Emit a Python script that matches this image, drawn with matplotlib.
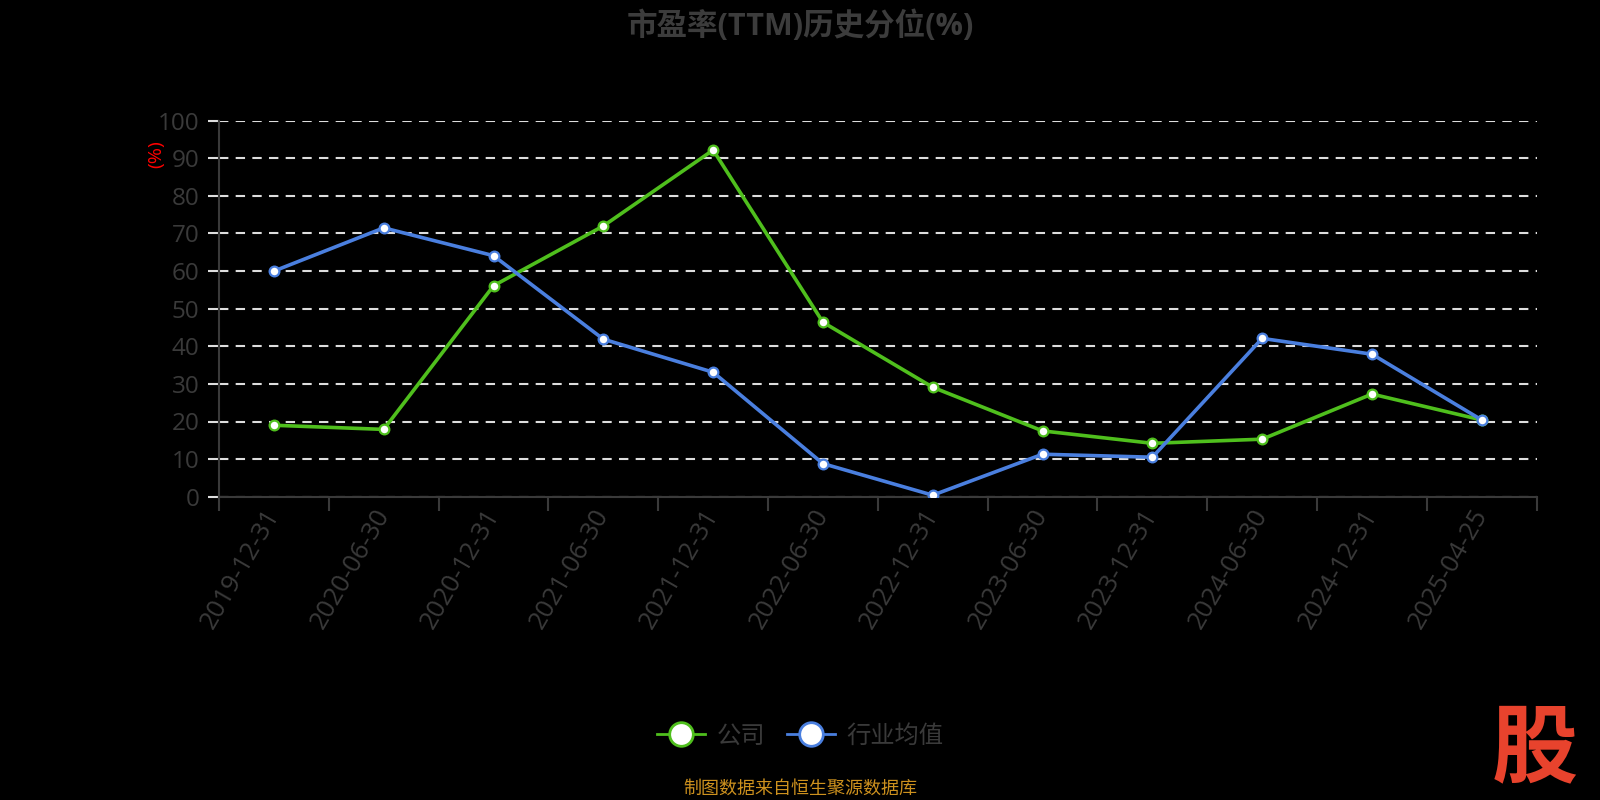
import matplotlib
matplotlib.use("Agg")
import matplotlib.pyplot as plt
import numpy as np
from matplotlib.lines import Line2D

plt.rcParams['font.family'] = ['Open Sans', 'Noto Sans CJK SC', 'DejaVu Sans']

# ---- data ----
dates = ["2019-12-31", "2020-06-30", "2020-12-31", "2021-06-30", "2021-12-31",
         "2022-06-30", "2022-12-31", "2023-06-30", "2023-12-31", "2024-06-30",
         "2024-12-31", "2025-04-25"]
company = [19.0, 17.9, 56.1, 72.0, 92.2, 46.4, 29.1, 17.5, 14.2, 15.3, 27.3, 20.4]
industry = [60.0, 71.5, 64.1, 41.9, 33.1, 8.8, 0.4, 11.3, 10.5, 42.1, 37.9, 20.4]
yticks = [0, 10, 20, 30, 40, 50, 60, 70, 80, 90, 100]
series_names = ["公司", "行业均值"]

title = "市盈率(TTM)历史分位(%)"
source = "制图数据来自恒生聚源数据库"

GREEN = '#4fbf1d'
BLUE = '#4a7fdf'
TXT = '#3a3a3a'
AXC = '#3a3a3a'

W, H = 1600, 800
fig = plt.figure(figsize=(16, 8), dpi=100)
fig.patch.set_facecolor('black')

x0, x1, y0, y1 = 219, 1536.7, 496.7, 120.7
ax = fig.add_axes([x0 / W, 1 - y0 / H, (x1 - x0) / W, (y0 - y1) / H])
ax.set_facecolor('black')

x = np.arange(len(dates))
ax.plot(x, company, color=GREEN, lw=2.6, marker='o', ms=7, mfc='white',
        mec=GREEN, mew=1.6, zorder=3)
ax.plot(x, industry, color=BLUE, lw=2.6, marker='o', ms=7, mfc='white',
        mec=BLUE, mew=1.6, zorder=4)

ax.set_xlim(-0.5, len(dates) - 0.5)
ax.set_ylim(0, 100)

for s in ['top', 'right']:
    ax.spines[s].set_visible(False)
for s in ['left', 'bottom']:
    ax.spines[s].set_color(AXC)
    ax.spines[s].set_linewidth(1.5)

# grid
ax.set_axisbelow(True)
ax.yaxis.grid(True, color='#dddddd', lw=1.5, linestyle=(0, (4.5, 3.5)))

# y ticks
ax.set_yticks(yticks)
ax.set_yticklabels([str(v) for v in yticks])
ax.tick_params(axis='y', length=8, width=1.5, color='#dddddd', pad=6,
               labelsize=17.5, labelcolor=TXT)
ax.yaxis.get_major_ticks()[0].tick1line.set_color(AXC)

# x ticks: boundaries as major, labels at centers as minor
bounds = np.arange(len(dates) + 1) - 0.5
ax.set_xticks(bounds, labels=[''] * len(bounds))
ax.tick_params(axis='x', which='major', length=10, width=1.5, color=AXC)
ax.set_xticks(x, labels=dates, minor=True)
ax.tick_params(axis='x', which='minor', length=0, pad=10, labelsize=18.5,
               labelcolor=TXT)
for lbl in ax.get_xticklabels(minor=True):
    lbl.set_rotation(60)
    lbl.set_ha('right')
    lbl.set_va('center')
    lbl.set_rotation_mode('anchor')

# y axis name
fig.text(156 / W, 1 - 154 / H, "(%)", color='red', fontsize=14, rotation=90,
         ha='center', va='center')

# title
fig.text(0.5, 1 - 26 / H, title, color='#3c3c3c', fontsize=22,
         fontweight='bold', ha='center', va='center')

# legend
handles = [
    Line2D([0], [0], color=GREEN, lw=2, marker='o', ms=17, mfc='white',
           mec=GREEN, mew=2),
    Line2D([0], [0], color=BLUE, lw=2, marker='o', ms=17, mfc='white',
           mec=BLUE, mew=2),
]
leg = fig.legend(handles, series_names, loc='center',
                 bbox_to_anchor=(0.5, 1 - 737 / H), ncol=2, frameon=False,
                 fontsize=17.5, handlelength=2.0, handletextpad=0.45,
                 columnspacing=0.9, labelcolor=TXT)

# source
fig.text(0.5, 1 - 789 / H, source, color='#cd911e', fontsize=13,
         ha='center', va='center')

# watermark
fig.text(1535 / W, 1 - 750 / H, "股", color='#e8432d', fontsize=62,
         fontweight='black', ha='center', va='center',
         family=['Noto Sans CJK SC'])

fig.savefig('out.png', dpi=100, facecolor='black')
